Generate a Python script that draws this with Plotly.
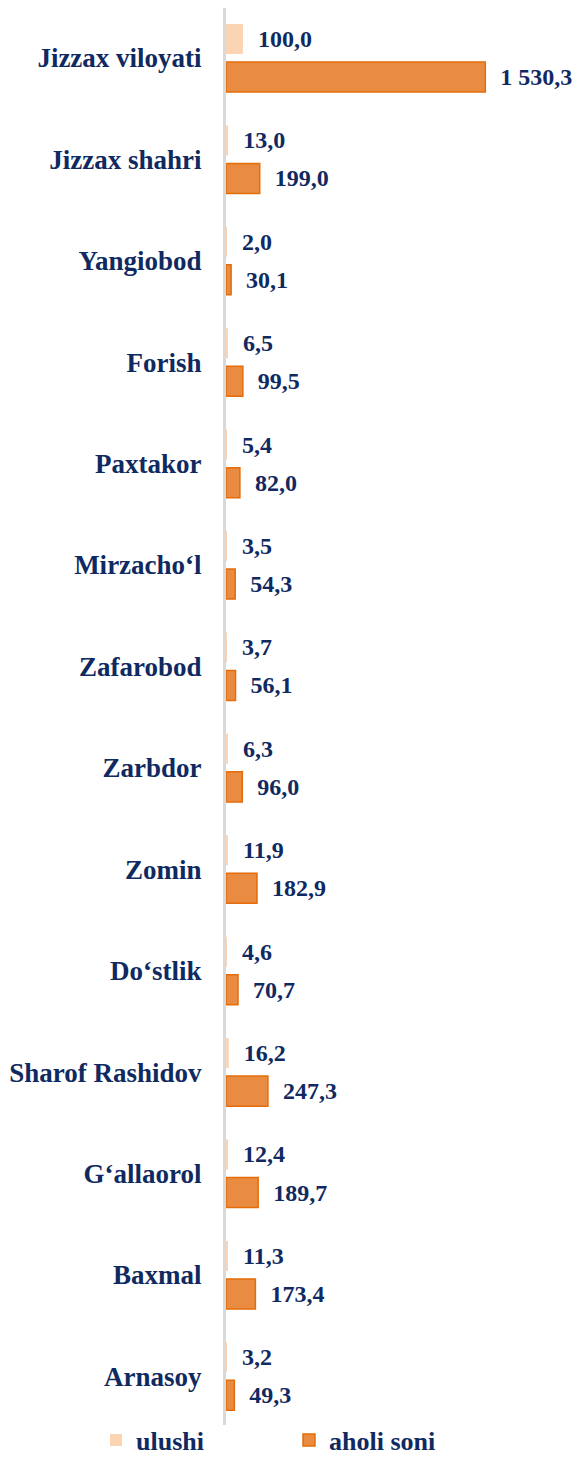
import plotly.graph_objects as go

categories = ["Jizzax viloyati", "Jizzax shahri", "Yangiobod", "Forish", "Paxtakor",
              "Mirzacho\u2018l", "Zafarobod", "Zarbdor", "Zomin", "Do\u2018stlik",
              "Sharof Rashidov", "G\u2018allaorol", "Baxmal", "Arnasoy"]
ulushi = [100.0, 13.0, 2.0, 6.5, 5.4, 3.5, 3.7, 6.3, 11.9, 4.6, 16.2, 12.4, 11.3, 3.2]
aholi_soni = [1530.3, 199.0, 30.1, 99.5, 82.0, 54.3, 56.1, 96.0, 182.9, 70.7, 247.3, 189.7, 173.4, 49.3]
series_names = ["ulushi", "aholi soni"]


def fmt(v):
    s = f"{v:,.1f}"
    return s.replace(",", " ").replace(".", ",")


NAVY = "#102a61"
FONT = "Liberation Serif"
W, H = 573, 1449  # page body adds an 8px margin

fig = go.Figure()
fig.add_trace(go.Bar(
    y=categories, x=ulushi, orientation="h", name=series_names[0],
    marker=dict(color="#fbd4b4", line=dict(width=0)),
    text=[fmt(v) for v in ulushi], texttemplate="\u00a0\u00a0%{text}",
    textposition="outside", constraintext="none", cliponaxis=False,
    textfont=dict(family=FONT, size=24, color=NAVY, weight="bold"),
    legend="legend",
))
fig.add_trace(go.Bar(
    y=categories, x=aholi_soni, orientation="h", name=series_names[1],
    marker=dict(color="#e98c41", line=dict(color="#e46c0a", width=1.5)),
    text=[fmt(v) for v in aholi_soni], texttemplate="\u00a0\u00a0%{text}",
    textposition="outside", constraintext="none", cliponaxis=False,
    textfont=dict(family=FONT, size=24, color=NAVY, weight="bold"),
    legend="legend2",
))

legend_common = dict(orientation="h", xref="container", yref="container",
                     xanchor="left", yanchor="middle",
                     font=dict(family=FONT, size=26, color=NAVY, weight="bold"),
                     bgcolor="rgba(0,0,0,0)")

fig.update_layout(
    width=W, height=H,
    margin=dict(l=218, r=0, t=0, b=32, autoexpand=False),
    paper_bgcolor="white", plot_bgcolor="white",
    barmode="group", bargap=0.25, bargroupgap=0.21,
    font=dict(family=FONT, color=NAVY, weight="bold"),
    showlegend=True,
    legend=dict(x=88 / W, y=1 - 1432 / H, **legend_common),
    legend2=dict(x=281 / W, y=1 - 1432 / H, **legend_common),
    xaxis=dict(range=[0, 2095], showgrid=False, zeroline=False,
               showticklabels=False, showline=False, fixedrange=True,
               automargin=False),
    yaxis=dict(type="category", range=[13.48, -0.493], showgrid=False,
               zeroline=False, showline=True, linecolor="#d9d9d9", linewidth=3,
               ticks="", ticklabelstandoff=16, automargin=False,
               tickfont=dict(family=FONT, size=27, color=NAVY, weight="bold")),
)

fig.write_html("out.html")
